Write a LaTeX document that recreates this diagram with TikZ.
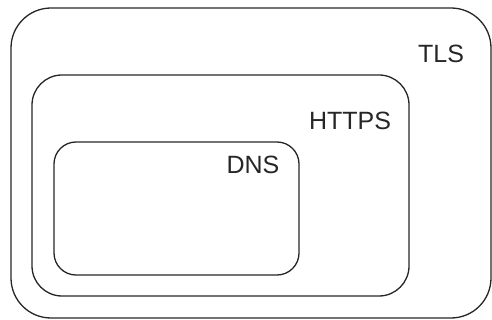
\documentclass[tikz,border=0pt]{standalone}
\usepackage{fontspec}
\setmainfont{Liberation Sans}
\begin{document}
\begin{tikzpicture}[x=1pt,y=-1pt,
  layer/.style={draw=black!85,line width=1.3pt,inner sep=0pt,outer sep=0pt},
  lbl/.style={font=\fontsize{25}{30}\selectfont,anchor=base,inner sep=0pt,text=black!85}]
\useasboundingbox (0,0) rectangle (492,320);
\node[layer,rounded corners=40pt,minimum width=480pt,minimum height=310pt] (tls) at (251,163) {};
\node[layer,rounded corners=30pt,minimum width=377pt,minimum height=221pt] (https) at (220.5,185.5) {};
\node[layer,rounded corners=22pt,minimum width=245pt,minimum height=133pt] (dns) at (176.5,208.5) {};
\node[lbl] (tlslbl) at (441,63) {TLS};
\node[lbl] (httpslbl) at (350,130) {HTTPS};
\node[lbl] (dnslbl) at (253,174) {DNS};
\end{tikzpicture}
\end{document}
